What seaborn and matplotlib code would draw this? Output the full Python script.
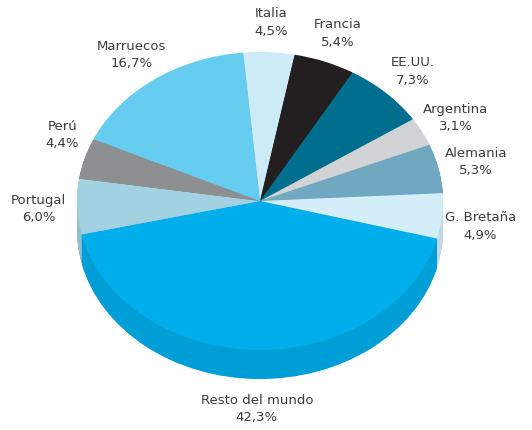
import numpy as np
import matplotlib
matplotlib.use("Agg")
import matplotlib.pyplot as plt
import seaborn as sns
from matplotlib.colors import to_rgb

# datos (orden horario desde arriba)
paises = ['Italia', 'Francia', 'EE.UU.', 'Argentina', 'Alemania', 'G. Bretaña',
          'Resto del mundo', 'Portugal', 'Perú', 'Marruecos']
porcentajes = [4.5, 5.4, 7.3, 3.1, 5.3, 4.9, 42.3, 6.0, 4.4, 16.7]
etiquetas = ['4,5%', '5,4%', '7,3%', '3,1%', '5,3%', '4,9%', '42,3%', '6,0%', '4,4%', '16,7%']
colores = ['#cdebf7', '#231f20', '#006e8f', '#d0d2d3', '#6fa8c0', '#d3eef9',
           '#00aeeb', '#a2d1e2', '#8c8e8f', '#66ccf0']

sns.set_style("white")
plt.rcParams['font.family'] = ['DejaVu Sans']

inicio = 95.3          # angulo de inicio
prof = 0.195           # grosor del "3D" en unidades de y
paleta = sns.color_palette(colores)
oscuros = [tuple(c * 0.91 for c in to_rgb(col)) for col in paleta]

fig = plt.figure(figsize=(5.32, 4.30), dpi=100)
ax = fig.add_axes([0, 0, 1, 1])

# lateral: pilas de tartas desplazadas hacia abajo
for d in np.linspace(prof, 0.005, 40):
    ax.pie(porcentajes, colors=oscuros, startangle=inicio, counterclock=False,
           center=(0, -d), wedgeprops=dict(linewidth=0))

# cara superior
ax.pie(porcentajes, colors=paleta, startangle=inicio, counterclock=False,
       center=(0, 0), wedgeprops=dict(linewidth=0))

# etiquetas
total = sum(porcentajes)
acum = 0
for nombre, p, et in zip(paises, porcentajes, etiquetas):
    medio = np.deg2rad(inicio - 360 * (acum + p / 2) / total)
    acum += p
    x = 1.21 * np.cos(medio)
    y = 1.2 * np.sin(medio) + min(0, np.sin(medio)) * prof
    if nombre == 'Perú':
        x, y = x + 0.08, y + 0.1
    if nombre == 'G. Bretaña':
        y -= 0.03
    ax.text(x, y, f'{nombre}\n{et}', ha='center', va='center', fontsize=9.5,
            color='#3c3c3c', linespacing=1.45)

ax.set_aspect('auto')
ax.set_xlim(-260 / 183, (532 - 260) / 183)
ax.set_ylim(-229 / 149, 201 / 149)
ax.axis('off')

plt.savefig('out.png', dpi=100)
